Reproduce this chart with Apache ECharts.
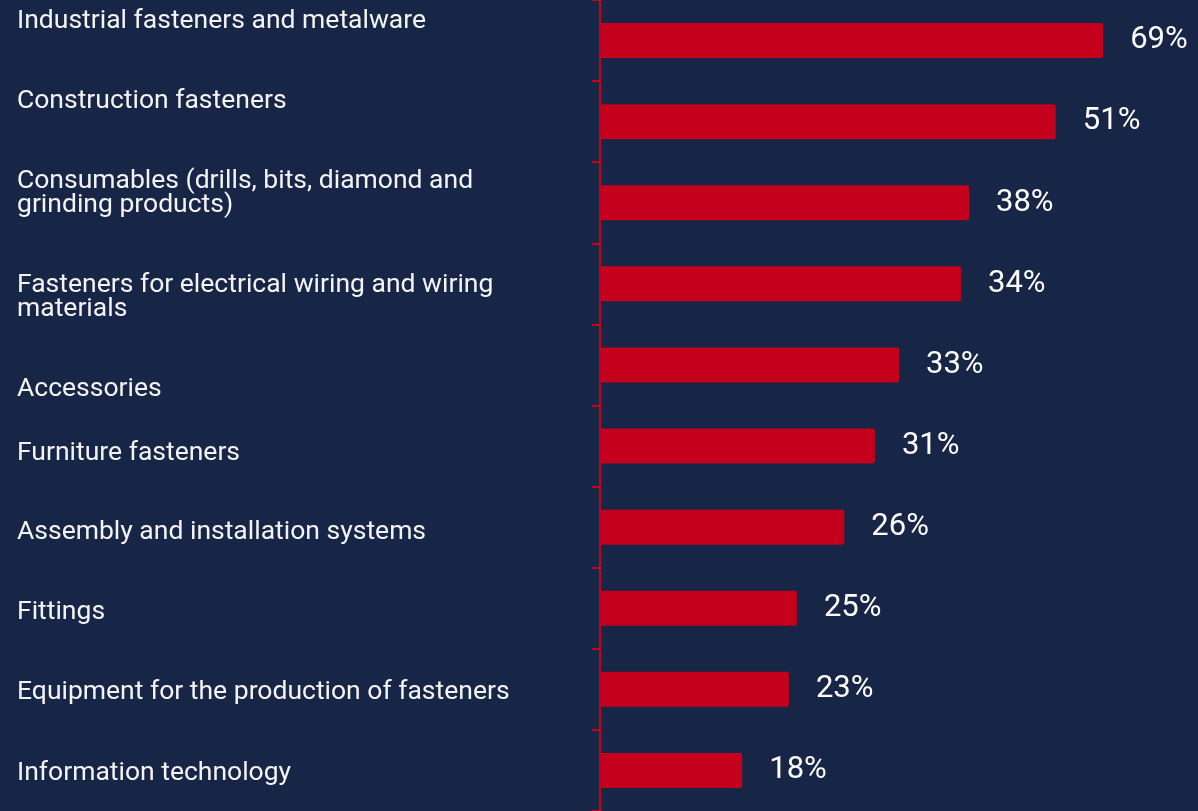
<!DOCTYPE html>
<html>
<head>
<meta charset="utf-8">
<script src="https://cdn.jsdelivr.net/npm/echarts@6/dist/echarts.min.js"></script>
<style>
html,body{margin:0;padding:0;background:#172546;}
#chart{width:1198px;height:811px;}
</style>
</head>
<body>
<div id="chart"></div>
<script>
const categories = [
  'Industrial fasteners and metalware',
  'Construction fasteners',
  'Consumables (drills, bits, diamond and\ngrinding products)',
  'Fasteners for electrical wiring and wiring\nmaterials',
  'Accessories',
  'Furniture fasteners',
  'Assembly and installation systems',
  'Fittings',
  'Equipment for the production of fasteners',
  'Information technology'
];
// bar lengths as drawn in the reference
const barValues = [69, 62.5, 50.6, 49.5, 41.0, 37.7, 33.5, 27.0, 25.9, 19.5];
// value labels as printed in the reference
const valueLabels = ['69%', '51%', '38%', '34%', '33%', '31%', '26%', '25%', '23%', '18%'];
// vertical shift of each category label (px, + = down)
const labelShift = [-19.5, -20.5, -9.5, 14, 24.5, 7, 5.5, 4, 3.5, 2.5];

const RED = '#c4001c';
const rich = { t: { fontFamily: 'Roboto', fontSize: 26.5, lineHeight: 24, color: '#f4f4f4', align: 'left' } };
labelShift.forEach((d, i) => {
  rich['s' + i] = { fontSize: 1, lineHeight: Math.max(1, Math.abs(2 * d)), height: Math.max(1, Math.abs(2 * d)) };
});

const chart = echarts.init(document.getElementById('chart'));
chart.setOption({
  backgroundColor: '#172546',
  animation: false,
  grid: { left: 600, right: 0, top: 0, bottom: 0, containLabel: false, outerBoundsMode: 'none' },
  xAxis: { type: 'value', min: 0, max: 82, show: false },
  yAxis: {
    type: 'category',
    inverse: true,
    data: categories,
    axisLine: { show: true, lineStyle: { color: RED, width: 2 } },
    axisTick: { show: true, length: 8, lineStyle: { color: RED, width: 2 } },
    splitLine: { show: false },
    axisLabel: {
      interval: 0,
      margin: 583,
      align: 'left',
      verticalAlign: 'middle',
      color: '#f4f4f4',
      fontFamily: 'Roboto',
      fontSize: 26.5,
      lineHeight: 24,
      formatter: (value, index) => {
        const d = labelShift[index];
        const sp = '{s' + index + '| }';
        const body = value.split('\n').map(l => '{t|' + l + '}').join('\n');
        return d >= 0 ? sp + '\n' + body : body + '\n' + sp;
      },
      rich: rich
    }
  },
  series: [{
    type: 'bar',
    data: barValues,
    barWidth: 35,
    itemStyle: { color: RED, borderRadius: [0, 2, 2, 0] },
    label: {
      show: true,
      position: 'right',
      distance: 27,
      color: '#ffffff',
      fontFamily: 'Roboto',
      fontSize: 31,
      formatter: p => valueLabels[p.dataIndex]
    }
  }]
});
</script>
</body>
</html>
